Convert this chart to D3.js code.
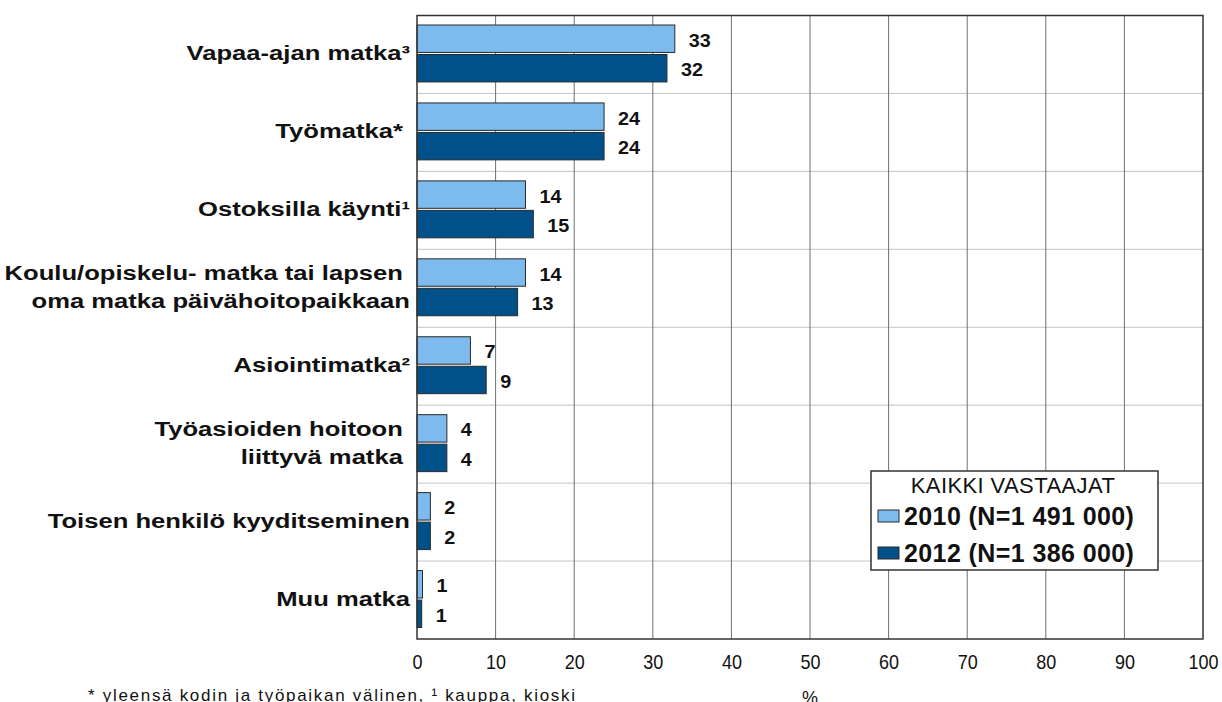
<!DOCTYPE html>
<html lang="fi">
<head>
<meta charset="UTF-8">
<title>Matkan tarkoitus</title>
<script src="https://d3js.org/d3.v7.min.js"></script>
<style>
  body { margin: 0; background: #fff; }
  svg text { font-family: "Liberation Sans", Arial, sans-serif; fill: #111; }
</style>
</head>
<body>
<svg id="chart" width="1222" height="702"></svg>
<script>
// data
var categories = [
  "Vapaa-ajan matka³",
  "Työmatka* ",
  "Ostoksilla käynti¹",
  "Koulu/opiskelu- matka tai lapsen \noma matka päivähoitopaikkaan",
  "Asiointimatka²",
  "Työasioiden hoitoon \nliittyvä matka ",
  "Toisen henkilö kyyditseminen",
  "Muu matka"
];
var seriesNames = ["2010 (N=1 491 000)", "2012 (N=1 386 000)"];
var values2010 = [32.8, 23.8, 13.8, 13.8, 6.8, 3.8, 1.7, 0.7];
var values2012 = [31.8, 23.8, 14.8, 12.8, 8.8, 3.8, 1.7, 0.6];
var labels2010 = [33, 24, 14, 14, 7, 4, 2, 1];
var labels2012 = [32, 24, 15, 13, 9, 4, 2, 1];
var legendTitle = "KAIKKI VASTAAJAT";
var axisUnit = "%";
var footnote = "* yleensä kodin ja työpaikan välinen, ¹ kauppa, kioski";

var colors = ["#7dbbee", "#00518a"];

var svg = d3.select("#chart");
var plotLeft = 417, plotRight = 1203, plotTop = 15.5, plotBottom = 639;

var x = d3.scaleLinear().domain([0, 100]).range([plotLeft, plotRight]);
var y = d3.scaleBand().domain(d3.range(categories.length)).range([plotTop, plotBottom]);
var ySub = d3.scaleBand().domain([0, 1])
  .range([9.5, y.bandwidth() - 11.5]).paddingInner(0.07);

// gridlines
svg.append("g").selectAll("line")
  .data(d3.range(1, categories.length))
  .enter().append("line")
  .attr("x1", plotLeft).attr("x2", plotRight)
  .attr("y1", d => plotTop + d * y.step()).attr("y2", d => plotTop + d * y.step())
  .attr("stroke", "#c4c4c4").attr("stroke-width", 1);

svg.append("g").selectAll("line")
  .data(x.ticks(10).slice(1, -1))
  .enter().append("line")
  .attr("x1", d => x(d)).attr("x2", d => x(d))
  .attr("y1", plotTop).attr("y2", plotBottom)
  .attr("stroke", "#707070").attr("stroke-width", 1);

// bars
var rows = categories.map((c, i) => ({
  i: i,
  vals: [values2010[i], values2012[i]],
  labs: [labels2010[i], labels2012[i]]
}));

var groups = svg.append("g").selectAll("g")
  .data(rows)
  .enter().append("g")
  .attr("transform", d => "translate(0," + y(d.i) + ")");

groups.selectAll("rect")
  .data(d => d.vals)
  .enter().append("rect")
  .attr("x", x(0))
  .attr("y", (v, j) => ySub(j))
  .attr("width", v => x(v) - x(0))
  .attr("height", ySub.bandwidth())
  .attr("fill", (v, j) => colors[j])
  .attr("stroke", "#2a2a2a").attr("stroke-width", 1);

groups.selectAll("text.val")
  .data(d => d.vals.map((v, j) => ({ v: v, lab: d.labs[j], j: j })))
  .enter().append("text")
  .attr("class", "val")
  .attr("transform", d => "translate(" + (x(d.v) + 14) + "," + (ySub(d.j) + ySub.bandwidth() / 2 + 1.5) + ") scale(1.1,1)")
  .attr("dy", "0.36em")
  .attr("font-size", "18px").attr("font-weight", "bold")
  .text(d => d.lab);

// plot frame
svg.append("rect")
  .attr("x", plotLeft).attr("y", plotTop)
  .attr("width", plotRight - plotLeft).attr("height", plotBottom - plotTop)
  .attr("fill", "none").attr("stroke", "#333").attr("stroke-width", 1.5);

// category labels (bold, drawn a bit wide as in the source)
var catText = svg.append("g").selectAll("text")
  .data(categories)
  .enter().append("text")
  .attr("text-anchor", "end")
  .attr("font-size", "21px").attr("font-weight", "bold")
  .style("white-space", "pre")
  .attr("transform", (d, i) => "translate(410," + (y(i) + y.bandwidth() / 2) + ") scale(1.22,1)");

catText.each(function(d) {
  var lines = d.split("\n");
  var t = d3.select(this);
  lines.forEach(function(line, k) {
    t.append("tspan")
      .attr("x", 0)
      .attr("y", (k - (lines.length - 1) / 2) * 28 + 6)
      .text(line);
  });
});

// x axis
var xAxis = svg.append("g")
  .attr("transform", "translate(0," + plotBottom + ")")
  .call(d3.axisBottom(x).ticks(10).tickSize(0).tickPadding(0));
xAxis.select(".domain").remove();
xAxis.selectAll("text")
  .attr("y", 30).attr("dy", 0)
  .attr("font-size", "20px")
  .attr("font-family", "Liberation Sans, Arial, sans-serif")
  .attr("fill", "#111")
  .attr("transform", "scale(0.9,1)");

svg.append("text")
  .attr("x", (plotLeft + plotRight) / 2).attr("y", 704)
  .attr("text-anchor", "middle")
  .attr("font-size", "18px")
  .text(axisUnit);

svg.append("text")
  .attr("x", 88).attr("y", 701)
  .attr("font-size", "17px")
  .attr("letter-spacing", "1.7px")
  .text(footnote);

// legend
var legend = svg.append("g").attr("transform", "translate(871,471)");
legend.append("rect")
  .attr("width", 287).attr("height", 99)
  .attr("fill", "#fff").attr("stroke", "#333").attr("stroke-width", 1.5);
legend.append("text")
  .attr("x", 142).attr("y", 22)
  .attr("text-anchor", "middle")
  .attr("font-size", "22px")
  .attr("letter-spacing", "0.4px")
  .text(legendTitle);

var items = legend.selectAll("g.item")
  .data(seriesNames)
  .enter().append("g")
  .attr("class", "item")
  .attr("transform", (d, i) => "translate(0," + (i * 37) + ")");
items.append("rect")
  .attr("x", 7).attr("y", 39)
  .attr("width", 21).attr("height", 12)
  .attr("fill", (d, i) => colors[i])
  .attr("stroke", "#2a2a2a").attr("stroke-width", 1);
items.append("text")
  .attr("x", 33).attr("y", 54)
  .attr("font-size", "25px").attr("font-weight", "bold")
  .attr("letter-spacing", "0.4px")
  .text(d => d);
</script>
</body>
</html>
